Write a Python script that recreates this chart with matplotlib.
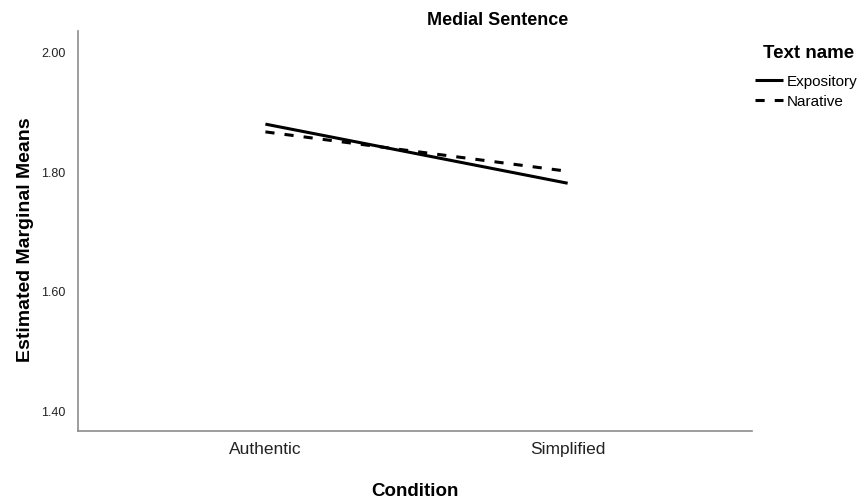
import matplotlib
matplotlib.use('Agg')
import matplotlib.pyplot as plt

plt.rcParams['font.family'] = ['Liberation Sans', 'DejaVu Sans']

conditions = ["Authentic", "Simplified"]
expository = [1.879, 1.780]
narative = [1.866, 1.800]
yticks = [1.40, 1.60, 1.80, 2.00]

fig = plt.figure(figsize=(8.63, 5.02), dpi=100)
ax = fig.add_axes([0.0904, 0.1394, 0.781, 0.7969])

x = list(range(len(conditions)))
ax.plot(x, expository, color='black', lw=2.2, solid_capstyle='butt', label='Expository')
ax.plot(x, narative, color='black', lw=2.2, linestyle=(0, (3, 3.3)), dash_capstyle='butt', label='Narative')

ax.set_xlim(-0.62, 1.61)
ax.set_ylim(1.365, 2.035)
ax.set_xticks(x)
ax.set_xticklabels(conditions, fontsize=12.5, color='#222222')
ax.set_yticks(yticks)
ax.set_yticklabels(["%.2f" % v for v in yticks], fontsize=9, color='#222222')
ax.tick_params(length=0, pad=7)
ax.tick_params(axis='y', pad=9)

for side in ['top', 'right']:
    ax.spines[side].set_visible(False)
for side in ['left', 'bottom']:
    ax.spines[side].set_color('#8c8c8c')
    ax.spines[side].set_linewidth(1.2)

ax.set_xlabel("Condition", fontsize=13.5, fontweight='bold', labelpad=19)
ax.set_ylabel("Estimated Marginal Means", fontsize=14, fontweight='bold')
ax.yaxis.set_label_coords(-0.0653, 0.48)

fig.text(498 / 863, 1 - 25 / 502, "Medial Sentence", ha='center', va='baseline',
         fontsize=13, fontweight='bold')

# legend title drawn separately so the gap to the entries can be set
fig.text(809 / 863, 1 - 53 / 502, "Text name", ha='center', va='center',
         fontsize=13.5, fontweight='bold')
leg = ax.legend(loc='upper left', bbox_to_anchor=(755 / 863, 1 - 75 / 502),
                bbox_transform=fig.transFigure, frameon=False, fontsize=11,
                handlelength=1.8, handletextpad=0.3, labelspacing=0.42,
                borderpad=0, borderaxespad=0)

fig.savefig('out.png', dpi=100)
